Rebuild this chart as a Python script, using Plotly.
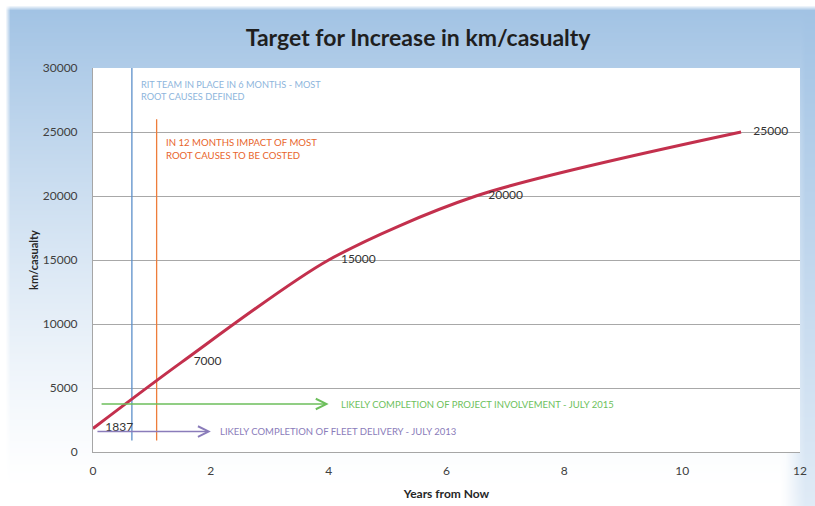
import numpy as np
import plotly.graph_objects as go

# Target trajectory (years from now -> km per casualty)
years = [0, 1.5, 4, 6.5, 11]
km_per_casualty = [1837, 7000, 15000, 20000, 25000]
point_labels = ["1837", "7000", "15000", "20000", "25000"]

# Axis ticks
x_ticks = [0, 2, 4, 6, 8, 10, 12]
y_ticks = [0, 5000, 10000, 15000, 20000, 25000, 30000]
y_tick_labels = ["0", "5000", "10000", "15000", "20000", "25000", "30000"]

# Milestone markers
milestone_years = [0.66, 1.08]
milestone_tops = [30000, 26000]
milestone_colors = ["#5b8fc9", "#ee7d3b"]
milestone_text = [
    ["RIT TEAM IN PLACE IN 6 MONTHS - MOST", "ROOT CAUSES DEFINED"],
    ["IN 12 MONTHS IMPACT OF MOST", "ROOT CAUSES TO BE COSTED"],
]
milestone_text_colors = ["#8db5dc", "#e8652c"]
milestone_text_levels = [28750, 24150]

# Completion arrows: start year, end year, level
arrow_start = [0.12, 0.05]
arrow_end = [4.0, 2.0]
arrow_level = [3750, 1600]
arrow_colors = ["#6dbf5c", "#8a7cba"]
arrow_text = [
    "LIKELY COMPLETION OF PROJECT INVOLVEMENT - JULY 2015",
    "LIKELY COMPLETION OF FLEET DELIVERY - JULY 2013",
]
arrow_text_gap = [0.17, 0.12]

W, H = 815, 506
FONT = "Lato"

# Soft blue backdrop behind the chart
gx = np.arange(0, W + 5, 5)
gy = np.arange(0, H + 5, 5)
PX, PY = np.meshgrid(gx, gy)
vert = np.clip(1 - (PY - 10) / 480.0, 0, 1) ** 1.25
side = np.clip((PX - 782) / 22.0, 0, 1) * np.clip(1 - (PY - 10) / 750.0, 0, 1)
shade = np.maximum(vert, side)
shade[(PY < 10) | (PX < 8)] = 0

fig = go.Figure()
fig.add_trace(go.Heatmap(
    x=gx, y=gy, z=shade, zmin=0, zmax=1, zsmooth="best",
    colorscale=[[0, "#ffffff"], [1, "#a2c3e4"]], showscale=False,
    hoverinfo="skip", xaxis="x", yaxis="y",
))

# Milestone verticals
for yr, top, col in zip(milestone_years, milestone_tops, milestone_colors):
    fig.add_trace(go.Scatter(
        x=[yr, yr], y=[900, top], mode="lines",
        line=dict(color=col, width=1.3), hoverinfo="skip",
        xaxis="x2", yaxis="y2", showlegend=False,
    ))

# Main target curve
fig.add_trace(go.Scatter(
    x=years, y=km_per_casualty, mode="lines+text",
    line=dict(color="#c3304d", width=3, shape="spline", smoothing=0.8),
    text=["    " + t for t in point_labels], textposition="middle right",
    textfont=dict(family=FONT, size=12, color="#333333"),
    xaxis="x2", yaxis="y2", showlegend=False,
))

annotations = []
# Arrows with captions
for s, e, lvl, col, txt, gap in zip(arrow_start, arrow_end, arrow_level, arrow_colors,
                                    arrow_text, arrow_text_gap):
    annotations.append(dict(
        x=e, y=lvl, ax=s, ay=lvl, xref="x2", yref="y2", axref="x2", ayref="y2",
        text="", showarrow=True, arrowhead=5, arrowsize=1.6, arrowwidth=1.3,
        arrowcolor=col,
    ))
    annotations.append(dict(
        x=e + gap, y=lvl, xref="x2", yref="y2", text=txt, showarrow=False,
        xanchor="left", yanchor="middle",
        font=dict(family=FONT, size=9.5, color=col),
    ))

# Milestone captions
for yr, lines, col, top, fs in zip(milestone_years, milestone_text, milestone_text_colors,
                                   milestone_text_levels, [9.2, 9.6]):
    for i, ln in enumerate(lines):
        annotations.append(dict(
            x=yr + 0.12, y=top - i * 1015, xref="x2", yref="y2", text=ln,
            showarrow=False, xanchor="left", yanchor="middle",
            font=dict(family=FONT, size=fs, color=col),
        ))

fig.update_layout(
    width=W, height=H, margin=dict(l=0, r=0, t=0, b=0, autoexpand=False),
    paper_bgcolor="white", plot_bgcolor="white",
    showlegend=False,
    title=dict(text="<b>Target for Increase in km/casualty</b>", x=0.513, y=0.925,
               xanchor="center", yanchor="middle", automargin=False,
               font=dict(family=FONT, size=23, color="#1f1f1f")),
    xaxis=dict(domain=[0, 1], range=[0, W], visible=False, fixedrange=True,
               automargin=False),
    yaxis=dict(domain=[0, 1], range=[H, 0], visible=False, fixedrange=True,
               automargin=False),
    xaxis2=dict(
        domain=[93 / W, 800 / W], range=[0, 12], anchor="y2", automargin=False,
        tickvals=x_ticks, showgrid=False, zeroline=False,
        showline=True, linecolor="#a6a6a6", linewidth=1,
        ticks="", ticklabelstandoff=8,
        tickfont=dict(family=FONT, size=12, color="#404040"),
        title=dict(text="<b>Years from Now</b>", standoff=12,
                   font=dict(family=FONT, size=12, color="#262626")),
    ),
    yaxis2=dict(
        domain=[54 / H, 438 / H], range=[0, 30000], anchor="x2", automargin=False,
        tickvals=y_ticks, ticktext=y_tick_labels,
        showgrid=True, gridcolor="#a8a8a8", gridwidth=1, zeroline=False,
        showline=True, linecolor="#a6a6a6", linewidth=1,
        ticks="", ticklabelstandoff=12,
        tickfont=dict(family=FONT, size=12, color="#404040"),
        title=dict(text="<b>km/casualty</b>", standoff=1,
                   font=dict(family=FONT, size=11, color="#262626")),
    ),
    annotations=annotations,
)

fig.write_html("out.html")
